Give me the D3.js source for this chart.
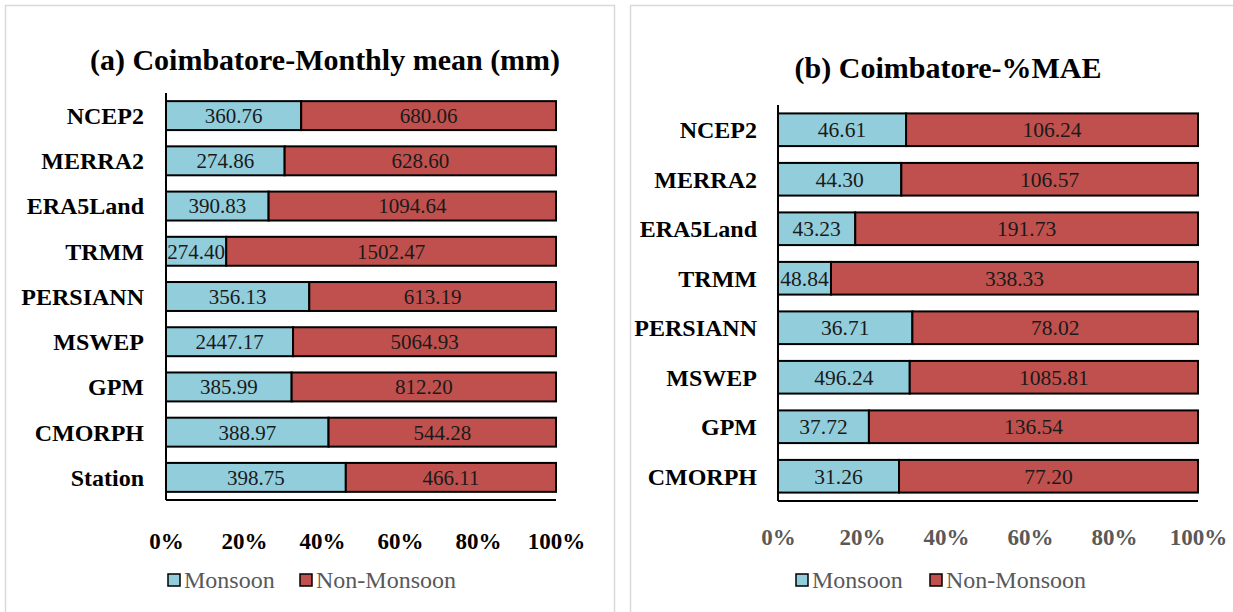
<!DOCTYPE html>
<html>
<head>
<meta charset="utf-8">
<script src="https://cdn.jsdelivr.net/npm/d3@7"></script>
<style>
  body { margin: 0; background: #fff; }
  svg { display: block; font-family: "Liberation Serif", "Times New Roman", serif; }
</style>
</head>
<body>
<script>
// datos del panel (a)
const stationsA = ['NCEP2', 'MERRA2', 'ERA5Land', 'TRMM', 'PERSIANN', 'MSWEP', 'GPM', 'CMORPH', 'Station'];
const monsoonA = [360.76, 274.86, 390.83, 274.40, 356.13, 2447.17, 385.99, 388.97, 398.75];
const nonMonsoonA = [680.06, 628.60, 1094.64, 1502.47, 613.19, 5064.93, 812.20, 544.28, 466.11];

// datos del panel (b)
const stationsB = ['NCEP2', 'MERRA2', 'ERA5Land', 'TRMM', 'PERSIANN', 'MSWEP', 'GPM', 'CMORPH'];
const monsoonB = [46.61, 44.30, 43.23, 48.84, 36.71, 496.24, 37.72, 31.26];
const nonMonsoonB = [106.24, 106.57, 191.73, 338.33, 78.02, 1085.81, 136.54, 77.20];

const tickLabels = ['0%', '20%', '40%', '60%', '80%', '100%'];
const seriesNames = ['Monsoon', 'Non-Monsoon'];
const colors = ['#92CDDC', '#C0504D'];

const svg = d3.select('body').append('svg')
  .attr('width', 1233)
  .attr('height', 612);

const drawPanel = (p) => {
  const g = svg.append('g');

  // marco del panel
  g.append('rect')
    .attr('x', p.box[0] + 0.5).attr('y', p.box[1] + 0.5)
    .attr('width', p.box[2]).attr('height', p.box[3])
    .attr('fill', 'none').attr('stroke', '#d9d9d9').attr('stroke-width', 1.5);

  g.append('text')
    .attr('x', p.titleX).attr('y', p.titleY)
    .attr('text-anchor', 'middle')
    .attr('font-size', 30).attr('font-weight', 'bold')
    .text(p.title);

  const rows = p.cats.map((c, i) => {
    const total = p.mon[i] + p.non[i];
    return { cat: c, vals: [p.mon[i], p.non[i]], shares: [p.mon[i] / total, p.non[i] / total] };
  });

  const x = d3.scaleLinear().domain([0, 1]).range([p.x0, p.x1]);
  const y = d3.scaleBand().domain(p.cats).range([p.yTop, p.yBottom]).paddingInner(p.pad).paddingOuter(p.pad / 2);

  const rowG = g.selectAll('g.row').data(rows).join('g').attr('class', 'row');
  rowG.each(function(d) {
    let acc = 0;
    d.shares.forEach((s, k) => {
      const start = acc;
      acc += s;
      d3.select(this).append('rect')
        .attr('x', x(start)).attr('y', y(d.cat))
        .attr('width', x(acc) - x(start)).attr('height', y.bandwidth())
        .attr('fill', colors[k]).attr('stroke', '#000').attr('stroke-width', 2);
      d3.select(this).append('text')
        .attr('x', (x(start) + x(acc)) / 2).attr('y', y(d.cat) + y.bandwidth() / 2)
        .attr('dy', '0.35em').attr('text-anchor', 'middle')
        .attr('font-size', p.valSize).attr('fill', '#1a1a1a')
        .text(d.vals[k].toFixed(2));
    });
  });

  // etiquetas de categoría
  g.selectAll('text.cat').data(p.cats).join('text')
    .attr('class', 'cat')
    .attr('x', p.x0 - p.catGap).attr('y', d => y(d) + y.bandwidth() / 2)
    .attr('dy', '0.35em').attr('text-anchor', 'end')
    .attr('font-size', p.catSize).attr('font-weight', 'bold')
    .text(d => d);

  // ejes
  g.append('line').attr('x1', p.x0).attr('x2', p.x0).attr('y1', p.yTop).attr('y2', p.yBottom)
    .attr('stroke', '#000').attr('stroke-width', 2);
  g.append('line').attr('x1', p.x0).attr('x2', p.x1).attr('y1', p.yBottom).attr('y2', p.yBottom)
    .attr('stroke', '#000').attr('stroke-width', 2);

  const xAxis = g.append('g').attr('transform', `translate(0,${p.tickY})`)
    .call(d3.axisBottom(x).tickValues(d3.range(0, 1.01, 0.2)).tickFormat((d, i) => tickLabels[i]).tickSize(0));
  xAxis.select('.domain').remove();
  xAxis.selectAll('text')
    .attr('font-family', '"Liberation Serif", serif')
    .attr('font-size', 23).attr('font-weight', 'bold')
    .attr('fill', p.tickColor);

  // leyenda
  const leg = g.append('g').attr('transform', `translate(${p.legX},${p.legY})`);
  seriesNames.forEach((n, k) => {
    const off = p.legOffsets[k];
    leg.append('rect').attr('x', off).attr('y', -6).attr('width', 12).attr('height', 12)
      .attr('fill', colors[k]).attr('stroke', '#000').attr('stroke-width', 1.5);
    leg.append('text').attr('x', off + 16).attr('y', 0).attr('dy', '0.35em')
      .attr('font-size', 24).attr('fill', '#595959').text(n);
  });
};

drawPanel({
  box: [5, 5, 609, 620],
  title: '(a) Coimbatore-Monthly mean (mm)', titleX: 325, titleY: 70,
  cats: stationsA, mon: monsoonA, non: nonMonsoonA,
  x0: 166, x1: 556, yTop: 93, yBottom: 500, pad: 0.36,
  catSize: 24, catGap: 22, valSize: 21,
  tickY: 530, tickColor: '#000',
  legX: 168, legY: 580, legOffsets: [0, 132]
});

drawPanel({
  box: [630, 5, 620, 620],
  title: '(b) Coimbatore-%MAE', titleX: 948, titleY: 78,
  cats: stationsB, mon: monsoonB, non: nonMonsoonB,
  x0: 778, x1: 1198, yTop: 105, yBottom: 501, pad: 0.34,
  catSize: 24, catGap: 21, valSize: 21.5,
  tickY: 526, tickColor: '#595959',
  legX: 796, legY: 580, legOffsets: [0, 134]
});
</script>
</body>
</html>
